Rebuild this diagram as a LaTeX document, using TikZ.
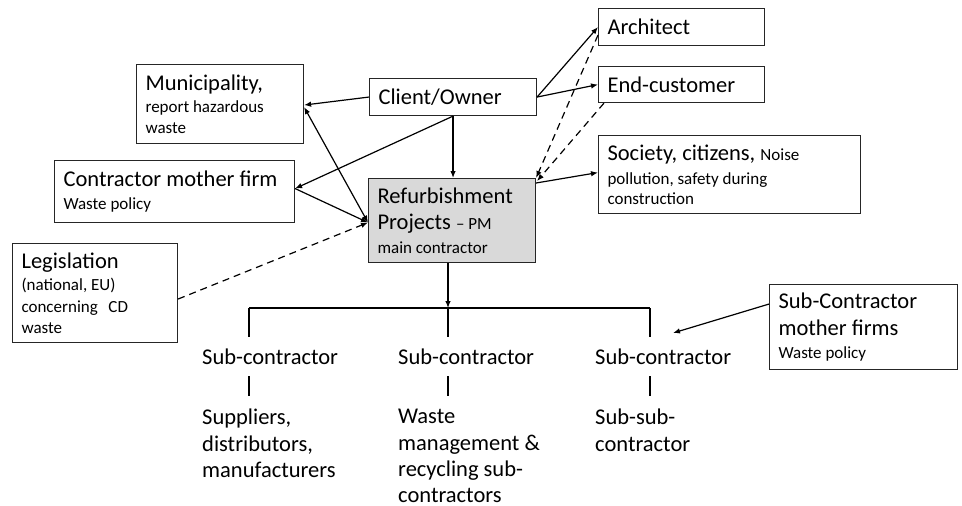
\documentclass[tikz,border=0pt]{standalone}
\usepackage{fontspec}
\setmainfont{Carlito}
\usetikzlibrary{arrows.meta,calc}
\setlength\parindent{0pt}
\newcommand\fbig{\fontsize{22.5}{26.5}\selectfont}
\newcommand\fsm{\fontsize{17}{21}\selectfont}
\newcommand\lineB[2]{{\fontsize{22.5}{#1pt}\selectfont #2\par}}
\newcommand\lineS[2]{{\fontsize{17}{#1pt}\selectfont #2\par}}
\begin{document}
\begin{tikzpicture}[x=1pt,y=-1pt,
  >={Latex[length=7pt,width=5.5pt]},
  box/.style={draw=black!85,line width=1.1pt,rectangle,anchor=north west,inner xsep=9pt,inner ysep=0pt,align=flush left,font=\fbig},
  lab/.style={inner sep=0pt,align=flush left,font=\fbig},
  con/.style={line width=1.2pt,->},
  dcon/.style={line width=1.2pt,->,dash pattern=on 7pt off 5pt},
  tick/.style={line width=1.2pt}]
\useasboundingbox[fill=white] (0,0) rectangle (962,506);

\node[box,text width=149pt,minimum height=79pt] (muni) at (136,64) {\lineB{0}{Municipality,}\lineS{22.5}{report hazardous}\lineS{21}{waste}};
\node[box,text width=149pt,minimum height=37pt] (client) at (369,78) {Client/Owner};
\node[box,text width=148pt,minimum height=37pt] (arch) at (598,8) {Architect};
\node[box,text width=148pt,minimum height=36pt] (endc) at (598,66) {End-customer};
\node[box,text width=244pt,minimum height=78pt] (soc) at (598,135) {\lineB{0}{Society, citizens, {\fsm Noise}}\lineS{23.5}{pollution, safety during}\lineS{20}{construction}};
\node[box,text width=222pt,minimum height=62pt] (cmf) at (54,160) {\lineB{0}{Contractor mother firm}\lineS{23}{Waste policy}};
\node[box,text width=149pt,minimum height=84pt,fill=black!15] (ref) at (368,178) {\lineB{0}{Refurbishment}\lineB{26}{Projects {\fsm -- PM}}\lineS{23.5}{main contractor}};
\node[box,text width=147pt,minimum height=99pt] (leg) at (12,243) {\lineB{0}{Legislation}\lineS{22}{(national, EU)}\lineS{22}{concerning\hspace{0.4em} CD}\lineS{21}{waste}};
\node[box,text width=170pt,minimum height=85pt] (scmf) at (769,284) {\lineB{0}{Sub-Contractor}\lineB{27}{mother firms}\lineS{23}{Waste policy}};

\node[lab,anchor=west] (s1) at (202,357) {Sub-contractor};
\node[lab,anchor=west] (s2) at (398,357) {Sub-contractor};
\node[lab,anchor=west] (s3) at (595,357) {Sub-contractor};
\node[lab,anchor=north west,text width=170pt] (l1) at (202,409) {\lineB{0}{Suppliers,}\lineB{26.5}{distributors,}\lineB{26.5}{manufacturers}};
\node[lab,anchor=north west,text width=170pt] (l2) at (398,409) {\lineB{0}{Waste}\lineB{26.5}{management \&}\lineB{26.5}{recycling sub-}\lineB{26}{contractors}};
\node[lab,anchor=north west,text width=170pt] (l3) at (595,409) {\lineB{0}{Sub-sub-}\lineB{26.5}{contractor}};

\coordinate (barL) at (249,308);
\coordinate (barM) at (448,308);
\coordinate (barR) at (650,308);
\coordinate (u1) at (249,337);
\coordinate (u2) at (448,337);
\coordinate (u3) at (650,337);
\coordinate (a1) at (249,376);
\coordinate (a2) at (448,376);
\coordinate (a3) at (650,376);
\coordinate (b1) at (249,396);
\coordinate (b2) at (448,396);
\coordinate (b3) at (650,396);
\coordinate (scA) at (673,333);

\draw[con] (client.west) -- ([yshift=-1pt]muni.east);
\draw[line width=1.2pt,<->] ([yshift=-3pt]muni.east) -- ([yshift=-2pt]ref.west);
\draw[con] (client.south) -- (client.south |- ref.north);
\draw[con] (client.south) -- ([yshift=3pt]cmf.east);
\draw[con] ([yshift=3pt]cmf.east) -- ([yshift=-2pt]ref.west);
\draw[dcon] ([yshift=-6pt]leg.east) -- ([yshift=-2pt]ref.west);
\draw[con] (client.east) -- (arch.west);
\draw[con] (client.east) -- (endc.west);
\draw[dcon] ([yshift=-8pt]arch.west) -- (ref.north east);
\draw[dcon] ([xshift=6pt]endc.south west) -- ([xshift=1pt,yshift=-3pt]ref.north east);
\draw[con] ([yshift=-5pt]ref.north east) -- ([yshift=2pt]soc.west);
\draw[con] (ref.south -| barM) -- (barM);
\draw[tick] (barL) -- (barR);
\draw[tick] (barL) -- (u1);
\draw[tick] (barM) -- (u2);
\draw[tick] (barR) -- (u3);
\draw[tick] (a1) -- (b1);
\draw[tick] (a2) -- (b2);
\draw[tick] (a3) -- (b3);
\draw[con] ([yshift=23pt]scmf.west) -- (scA);
\end{tikzpicture}
\end{document}
